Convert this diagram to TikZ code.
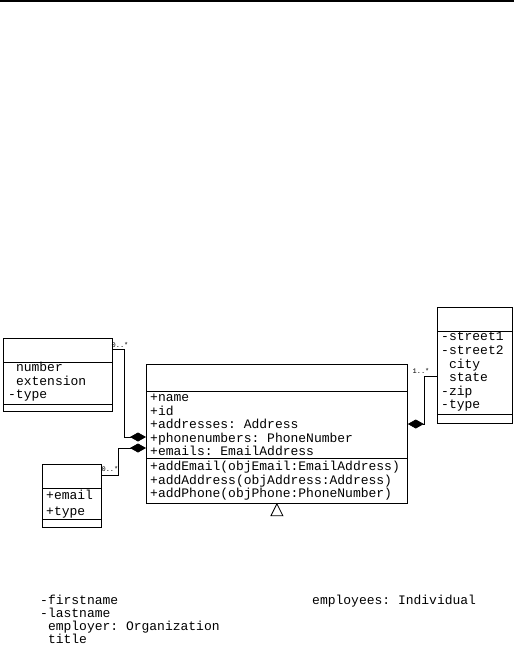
\documentclass[tikz,border=0pt]{standalone}
\usepackage{fontspec}
\setmonofont{Liberation Mono}
\usetikzlibrary{arrows.meta}
\begin{document}
\begin{tikzpicture}[x=1pt,y=-1pt,
  cls/.style={draw, line width=0.8pt, inner sep=0, anchor=north west},
  txt/.style={anchor=west, inner sep=0, align=left, font=\ttfamily\fontsize{13}{13.6}\selectfont},
  mult/.style={inner sep=0, font=\ttfamily\fontsize{7}{7}\selectfont},
  comp/.style={-{Diamond[length=16pt,width=9pt]}, line width=0.8pt},
  sep/.style={line width=0.8pt}
]
\useasboundingbox (0,0) rectangle (514,647);
\fill[white] (0,0) rectangle (514,647);
% top rule
\draw[line width=2pt] (0,1.5) -- (514,1.5);

% phone number class
\node[cls, minimum width=109pt, minimum height=73pt] (phone) at (3,338) {};
\draw[sep] ([yshift=-24pt]phone.north west) -- ([yshift=-24pt]phone.north east);
\draw[sep] ([yshift=7pt]phone.south west) -- ([yshift=7pt]phone.south east);
\node[txt] (phoneattr) at (8,382) {\phantom{-}number\\\phantom{-}extension\\-type};

% main class
\node[cls, minimum width=261pt, minimum height=139pt] (main) at (146,364) {};
\draw[sep] ([yshift=-27pt]main.north west) -- ([yshift=-27pt]main.north east);
\draw[sep] ([yshift=-94pt]main.north west) -- ([yshift=-94pt]main.north east);
\node[txt] (mainattr) at (150,425) {+name\\+id\\+addresses: Address\\+phonenumbers: PhoneNumber\\+emails: EmailAddress};
\node[txt] (mainops) at (150,481) {+addEmail(objEmail:EmailAddress)\\+addAddress(objAddress:Address)\\+addPhone(objPhone:PhoneNumber)};
% generalization triangle
\draw[line width=0.8pt, fill=white] (main.south) -- ++(-6,12) -- ++(12,0) -- cycle;

% address class
\node[cls, minimum width=75pt, minimum height=116pt] (addr) at (437,307) {};
\draw[sep] ([yshift=-24pt]addr.north west) -- ([yshift=-24pt]addr.north east);
\draw[sep] ([yshift=9pt]addr.south west) -- ([yshift=9pt]addr.south east);
\node[txt] (addrattr) at (441,372) {-street1\\-street2\\\phantom{-}city\\\phantom{-}state\\-zip\\-type};

% email class
\node[cls, minimum width=59pt, minimum height=63pt] (email) at (42,464) {};
\draw[sep] ([yshift=-24pt]email.north west) -- ([yshift=-24pt]email.north east);
\draw[sep] ([yshift=8pt]email.south west) -- ([yshift=8pt]email.south east);
\node[txt] (emailattr) at (46,504) {+email\\[2pt]+type};

% composition connectors
\draw[comp] ([yshift=-11pt]phone.north east) -- ++(12,0) |- ([yshift=-73pt]main.north west);
\draw[comp] ([yshift=-11pt]email.north east) -- ++(17,0) |- ([yshift=-84pt]main.north west);
\draw[comp] ([yshift=-69pt]addr.north west) -- ++(-13,0) |- ([yshift=-60pt]main.north east);

% multiplicities
\node[mult] (m1) at (120,345) {0..*};
\node[mult] (m2) at (110,469) {0..*};
\node[mult] (m3) at (421,371) {1..*};

% bottom texts
\node[txt, font=\ttfamily\fontsize{13}{13}\selectfont] (indiv) at (40,619) {-firstname\\-lastname\\\phantom{-}employer: Organization\\\phantom{-}title};
\node[txt] (org) at (312,601) {employees: Individual};
\end{tikzpicture}
\end{document}
